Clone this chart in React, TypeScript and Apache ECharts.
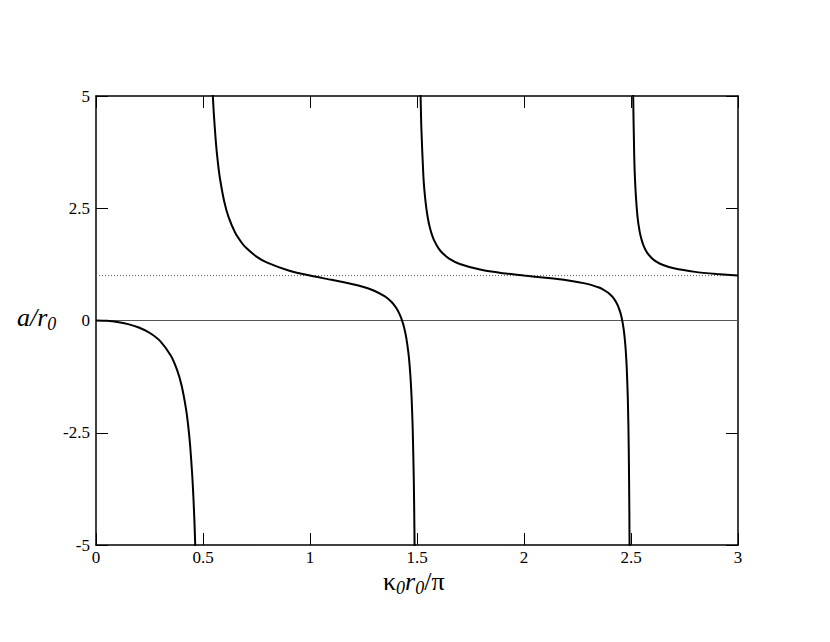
import React, { useEffect, useRef } from "react";
import * as echarts from "echarts";

const branch1X = [0, 0.05, 0.1, 0.15, 0.2, 0.25, 0.3, 0.35, 0.38, 0.4, 0.42, 0.43, 0.44, 0.45, 0.455, 0.46, 0.465];
const branch1Y = [0, -0.008, -0.034, -0.081, -0.156, -0.273, -0.46, -0.785, -1.116, -1.449, -1.95, -2.31, -2.79, -3.47, -3.92, -4.48, -5.2];

const branch2X = [0.535, 0.54, 0.545, 0.55, 0.56, 0.57, 0.58, 0.6, 0.62, 0.65, 0.68, 0.7, 0.75, 0.8, 0.9, 1.0, 1.1, 1.2, 1.25, 1.3, 1.35, 1.37, 1.38, 1.39, 1.4, 1.41, 1.42, 1.43, 1.44, 1.45, 1.46, 1.465, 1.47, 1.475, 1.48, 1.485, 1.488, 1.49];
const branch2Y = [6.39, 5.67, 5.1, 4.65, 3.98, 3.5, 3.14, 2.633, 2.297, 1.961, 1.738, 1.626, 1.424, 1.289, 1.115, 1.0, 0.906, 0.807, 0.745, 0.663, 0.537, 0.463, 0.417, 0.364, 0.3, 0.223, 0.127, 0.004, -0.159, -0.386, -0.726, -0.968, -1.291, -1.743, -2.418, -3.545, -4.67, -5.8];

const branch3X = [1.51, 1.515, 1.52, 1.53, 1.54, 1.55, 1.56, 1.57, 1.58, 1.6, 1.62, 1.65, 1.7, 1.8, 1.9, 2.0, 2.1, 2.2, 2.3, 2.35, 2.37, 2.39, 2.4, 2.41, 2.42, 2.43, 2.44, 2.45, 2.455, 2.46, 2.465, 2.47, 2.475, 2.48, 2.485, 2.488, 2.49, 2.492, 2.493, 2.494];
const branch3Y = [7.71, 5.45, 4.33, 3.2, 2.64, 2.3, 2.07, 1.907, 1.785, 1.612, 1.496, 1.379, 1.258, 1.128, 1.054, 1.0, 0.951, 0.895, 0.81, 0.734, 0.69, 0.63, 0.592, 0.545, 0.488, 0.414, 0.316, 0.18, 0.089, -0.024, -0.17, -0.364, -0.635, -1.04, -1.716, -2.39, -3.07, -4.08, -4.81, -5.77];

const branch4X = [2.505, 2.508, 2.51, 2.515, 2.52, 2.53, 2.54, 2.55, 2.56, 2.57, 2.58, 2.6, 2.62, 2.65, 2.7, 2.8, 2.9, 3.0];
const branch4Y = [9.09, 6.05, 5.04, 3.68, 3.01, 2.33, 1.99, 1.79, 1.652, 1.554, 1.481, 1.377, 1.307, 1.236, 1.162, 1.083, 1.036, 1.0];

const xTicks = [0, 0.5, 1, 1.5, 2, 2.5, 3];
const yTicks = [-5, -2.5, 0, 2.5, 5];
const zeroLine = [0, 0];
const unitLine = [1, 1];

const zip = (xs: number[], ys: number[]) => xs.map((x, i) => [x, ys[i]]);

const FONT = "Liberation Serif";

export default function App() {
  const ref = useRef<HTMLDivElement>(null);
  useEffect(() => {
    if (!ref.current) return;
    document.body.style.margin = "0";
    const chart = echarts.init(ref.current, undefined, { renderer: "svg" });
    const curve = (xs: number[], ys: number[]) => ({
      type: "line",
      data: zip(xs, ys),
      showSymbol: false,
      clip: true,
      smooth: 0.2,
      lineStyle: { color: "#000", width: 2 },
      z: 5,
    });
    const tickAxisCommon = {
      axisLine: { show: true, onZero: false, lineStyle: { color: "#000", width: 1.5 } },
      axisTick: { show: true, inside: true, length: 12, lineStyle: { color: "#000", width: 1 } },
      splitLine: { show: false },
    };
    chart.setOption({
      animation: false,
      textStyle: { fontFamily: FONT },
      grid: { left: 96, right: 92, top: 96, bottom: 97 },
      xAxis: [
        {
          type: "value",
          min: xTicks[0],
          max: xTicks[xTicks.length - 1],
          interval: 0.5,
          ...tickAxisCommon,
          axisLabel: { color: "#000", fontFamily: FONT, fontSize: 17, margin: 4 },
        },
        {
          type: "value",
          position: "top",
          min: xTicks[0],
          max: xTicks[xTicks.length - 1],
          interval: 0.5,
          ...tickAxisCommon,
          axisLabel: { show: false },
        },
      ],
      yAxis: [
        {
          type: "value",
          min: yTicks[0],
          max: yTicks[yTicks.length - 1],
          interval: 2.5,
          ...tickAxisCommon,
          axisLabel: { color: "#000", fontFamily: FONT, fontSize: 17, margin: 6 },
        },
        {
          type: "value",
          position: "right",
          min: yTicks[0],
          max: yTicks[yTicks.length - 1],
          interval: 2.5,
          ...tickAxisCommon,
          axisLabel: { show: false },
        },
      ],
      series: [
        {
          type: "line",
          data: [[xTicks[0], zeroLine[0]], [xTicks[xTicks.length - 1], zeroLine[1]]],
          showSymbol: false,
          lineStyle: { color: "#555", width: 1 },
          z: 2,
        },
        {
          type: "line",
          data: [[xTicks[0], unitLine[0]], [xTicks[xTicks.length - 1], unitLine[1]]],
          showSymbol: false,
          lineStyle: { color: "#555", width: 1, type: [1, 2] },
          z: 2,
        },
        curve(branch1X, branch1Y),
        curve(branch2X, branch2Y),
        curve(branch3X, branch3Y),
        curve(branch4X, branch4Y),
      ],
      graphic: [
        {
          type: "text",
          left: 17,
          top: 304,
          style: {
            text: "{i|a/r}{s|0}",
            fontFamily: FONT,
            rich: {
              i: { fontFamily: FONT, fontStyle: "italic", fontSize: 26, fill: "#000" },
              s: { fontFamily: FONT, fontStyle: "italic", fontSize: 18, fill: "#000", verticalAlign: "bottom", padding: [14, 0, 0, 0] },
            },
          },
        },
        {
          type: "text",
          left: 383,
          top: 568,
          style: {
            text: "{n|κ}{s|0}{i|r}{s|0}{n|/π}",
            fontFamily: FONT,
            rich: {
              n: { fontFamily: FONT, fontSize: 26, fill: "#000" },
              i: { fontFamily: FONT, fontStyle: "italic", fontSize: 26, fill: "#000" },
              s: { fontFamily: FONT, fontStyle: "italic", fontSize: 18, fill: "#000", verticalAlign: "bottom", padding: [14, 0, 0, 0] },
            },
          },
        },
      ],
    });
    return () => chart.dispose();
  }, []);
  return <div ref={ref} style={{ width: 830, height: 642 }} />;
}
